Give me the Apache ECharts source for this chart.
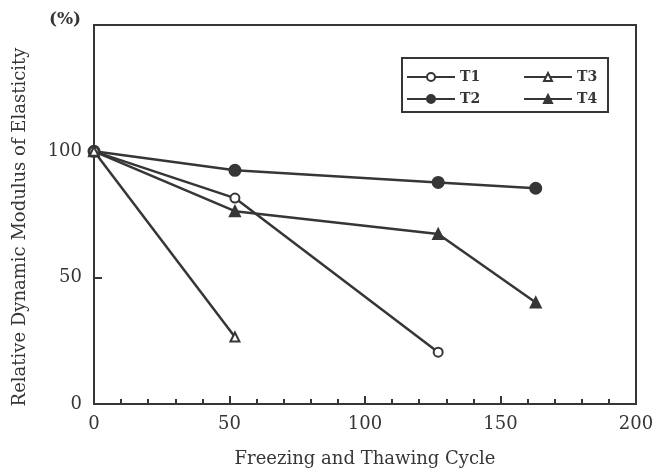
<!DOCTYPE html>
<html><head><meta charset="utf-8">
<script src="https://cdn.jsdelivr.net/npm/echarts@6/dist/echarts.min.js"></script>
<style>html,body{margin:0;padding:0;background:#fff}#c{width:663px;height:473px}</style>
</head><body><div id="c"></div>
<script>
var seriesNames = ['T1', 'T2', 'T3', 'T4'];
var t1X = [0, 52, 127];   var t1Y = [100, 81.5, 20.5];
var t2X = [0, 52, 127, 163]; var t2Y = [100, 92.5, 87.7, 85.4];
var t3X = [0, 52];        var t3Y = [100, 26.5];
var t4X = [0, 52, 127, 163]; var t4Y = [100, 76.3, 67.3, 40.2];
var xTicks = [0, 50, 100, 150, 200];
var yTicks = [0, 50, 100];
var xTitle = 'Freezing and Thawing Cycle';
var yTitle = 'Relative Dynamic Modulus of Elasticity';
var yUnit = '(%)';

function pairs(xs, ys) { return xs.map(function (x, i) { return [x, ys[i]]; }); }
var C = '#363636';
var FONT = '"DejaVu Serif", "Liberation Serif", serif';

function mk(name, xs, ys, sym, size, fill) {
  return {
    name: name, type: 'line', data: pairs(xs, ys),
    symbol: sym, symbolSize: size, showSymbol: true,
    lineStyle: { color: C, width: 2.5 },
    itemStyle: { color: fill ? C : '#fff', borderColor: C, borderWidth: 2 },
    emphasis: { disabled: true }, animation: false, z: fill ? 3 : 4
  };
}

var chart = echarts.init(document.getElementById('c'), null, { renderer: 'canvas' });
chart.setOption({
  backgroundColor: '#fff',
  animation: false,
  textStyle: { fontFamily: FONT, color: C },
  grid: { left: 94, right: 27, top: 25, bottom: 66, show: true, borderColor: C, borderWidth: 2, backgroundColor: 'transparent' },
  legend: [
    { data: ['T1', 'T2'], orient: 'vertical', left: 406, top: 70, itemWidth: 48, itemHeight: 10, itemGap: 8,
      textStyle: { fontFamily: FONT, fontSize: 14, color: C, fontWeight: 'bold' }, padding: 0, selectedMode: false },
    { data: ['T3', 'T4'], orient: 'vertical', left: 523, top: 70, itemWidth: 48, itemHeight: 10, itemGap: 8,
      textStyle: { fontFamily: FONT, fontSize: 14, color: C, fontWeight: 'bold' }, padding: 0, selectedMode: false }
  ],
  graphic: [
    { type: 'rect', shape: { x: 402, y: 58, width: 206, height: 54 }, style: { fill: 'none', stroke: C, lineWidth: 2 }, z: 10 },
    { type: 'text', x: 20, y: 227, rotation: Math.PI / 2, style: { text: yTitle, fontFamily: FONT, fontSize: 18, fill: C, textAlign: 'center', textVerticalAlign: 'middle' } },
    { type: 'text', x: 65, y: 20, style: { text: yUnit, fontFamily: FONT, fontSize: 17, fill: C, fontWeight: 'bold', textAlign: 'center', textVerticalAlign: 'middle' } }
  ],
  xAxis: {
    type: 'value', min: xTicks[0], max: xTicks[xTicks.length - 1], interval: 50,
    name: xTitle, nameLocation: 'middle', nameGap: 46,
    nameTextStyle: { fontFamily: FONT, fontSize: 18, color: C },
    axisLine: { lineStyle: { color: C, width: 2 } },
    axisTick: { inside: true, length: 8, lineStyle: { color: C, width: 2 } },
    minorTick: { show: true, splitNumber: 5, length: 5, lineStyle: { color: C, width: 2 } },
    axisLabel: { fontFamily: FONT, fontSize: 18, color: C, margin: 11 },
    splitLine: { show: false }
  },
  yAxis: {
    type: 'value', min: 0, max: 150, interval: 50,
    axisLine: { show: true, lineStyle: { color: C, width: 2 } },
    axisTick: { show: true, inside: true, length: 8, lineStyle: { color: C, width: 2 } },
    axisLabel: { fontFamily: FONT, fontSize: 18, color: C, margin: 12,
      formatter: function (v) { return yTicks.indexOf(v) >= 0 ? String(v) : ''; } },
    splitLine: { show: false }
  },
  series: [
    mk(seriesNames[0], t1X, t1Y, 'circle', 9, false),
    mk(seriesNames[1], t2X, t2Y, 'circle', 11, true),
    mk(seriesNames[2], t3X, t3Y, 'triangle', 9, false),
    mk(seriesNames[3], t4X, t4Y, 'triangle', 10, true)
  ]
});
</script></body></html>
